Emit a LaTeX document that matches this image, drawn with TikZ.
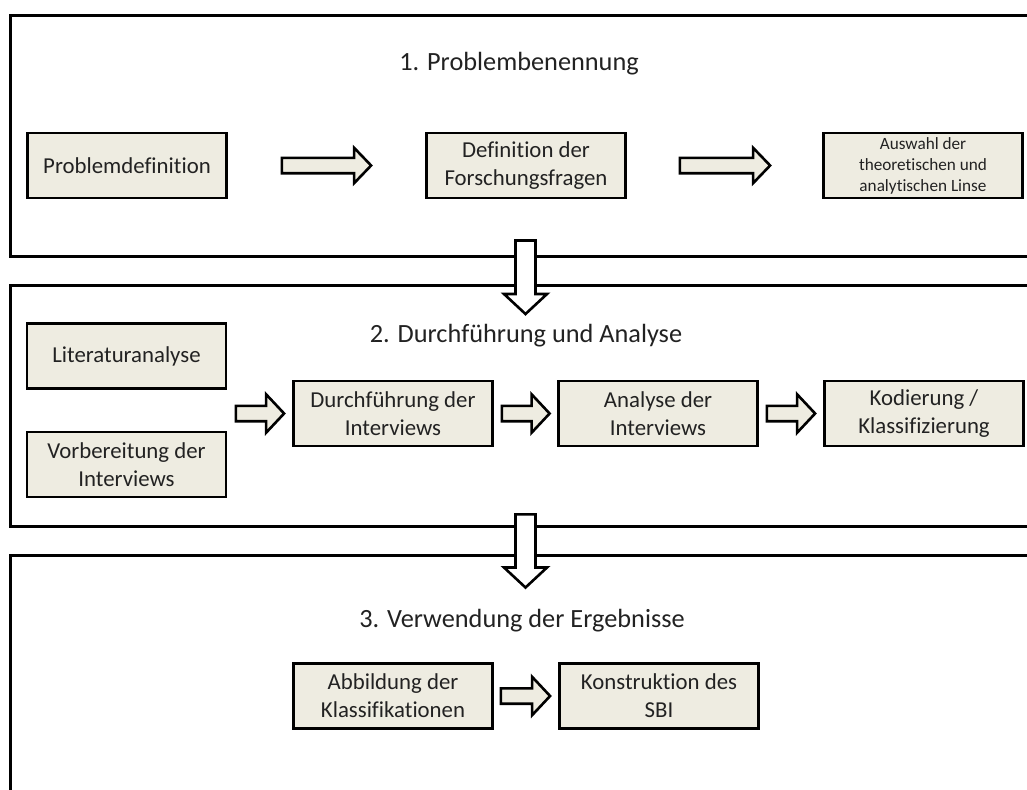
\documentclass[tikz,border=0pt]{standalone}
\usepackage{fontspec}
\setmainfont{Carlito}[Ligatures=NoCommon]
\usetikzlibrary{calc}

\definecolor{boxfill}{HTML}{EEECE1}
\definecolor{inktext}{HTML}{222222}

\tikzset{
  panel/.style={line width=3pt},
  stepbox/.style={draw, line width=2.8pt, fill=boxfill, minimum width=199pt,
    minimum height=65pt, inner sep=2pt, align=center, text=inktext,
    font=\fontsize{22.8}{27.8}\selectfont},
  smallbox/.style={stepbox, font=\fontsize{17.2}{21}\selectfont},
  heading/.style={anchor=base, text=inktext, font=\fontsize{26.3}{32}\selectfont},
  flowarrow/.style={draw, line width=2.6pt, fill=boxfill},
  downarrow/.style={draw, line width=2.6pt, fill=white},
}

% block arrow pointing right: tail, tip, shaft half height, head half height, head length
\newcommand\rightblock[5]{%
  \path[flowarrow] let \p1=(#1), \p2=(#2) in
    (\x1,{\y1+#3}) -- ({\x2-#5},{\y1+#3}) -- ({\x2-#5},{\y1+#4}) -- (\x2,\y1)
    -- ({\x2-#5},{\y1-#4}) -- ({\x2-#5},{\y1-#3}) -- (\x1,{\y1-#3}) -- cycle;}

% block arrow pointing down: tail, tip, shaft half width, head half width, head length
\newcommand\downblock[5]{%
  \path[downarrow] let \p1=(#1), \p2=(#2) in
    ({\x1-#3},\y1) -- ({\x1-#3},{\y2+#5}) -- ({\x1-#4},{\y2+#5}) -- (\x1,\y2)
    -- ({\x1+#4},{\y2+#5}) -- ({\x1+#3},{\y2+#5}) -- ({\x1+#3},\y1) -- cycle;}

\begin{document}
\begin{tikzpicture}[x=1pt, y=-1pt]
\useasboundingbox (0,0) rectangle (1027,789);

% phase panels (open towards the right)
\draw[panel] (1032,16) -- (10,16) -- (10,256) -- (1032,256);
\draw[panel] (1032,285.5) -- (10,285.5) -- (10,526) -- (1032,526);
\draw[panel] (1032,555.5) -- (10,555.5) -- (10,795);

% headings
\node[heading] (h1) at (519,71) {1. Problembenennung};
\node[heading] (h2) at (526,342) {2. Durchführung und Analyse};
\node[heading] (h3) at (522,627) {3. Verwendung der Ergebnisse};

% phase 1
\node[stepbox] (pd) at (127,165.5) {Problemdefinition};
\node[stepbox] (def) at (526,165.5) {Definition der\\Forschungsfragen};
\node[smallbox] (ausw) at (923,165.5) {Auswahl der\\theoretischen und\\analytischen Linse};

% phase 2
\node[stepbox] (lit) at (126.5,356) {Literaturanalyse};
\node[stepbox] (vor) at (126.5,464.5) {Vorbereitung der\\Interviews};
\node[stepbox] (durch) at (393,413.5) {Durchführung der\\Interviews};
\node[stepbox] (ana) at (658,413.5) {Analyse der\\Interviews};
\node[stepbox] (kod) at (924,413.5) {Kodierung /\\Klassifizierung};

% phase 3
\node[stepbox] (abb) at (393,696) {Abbildung der\\Klassifikationen};
\node[stepbox] (kon) at (659,696) {Konstruktion des\\SBI};

% arrows inside the phases
\coordinate (a1s) at ($(pd.east)+(54,0)$);
\coordinate (a1e) at ($(def.west)+(-54,0)$);
\rightblock{a1s}{a1e}{7.7pt}{17.7pt}{17pt}
\coordinate (a2s) at ($(def.east)+(53,0)$);
\coordinate (a2e) at ($(ausw.west)+(-52,0)$);
\rightblock{a2s}{a2e}{7.7pt}{17.7pt}{17pt}

\coordinate (a3s) at ($(lit.east |- durch.west)+(8.5,0)$);
\coordinate (a3e) at ($(durch.west)+(-8,0)$);
\rightblock{a3s}{a3e}{7.7pt}{19.2pt}{18pt}
\coordinate (a4s) at ($(durch.east)+(8,0)$);
\coordinate (a4e) at ($(ana.west)+(-7.5,0)$);
\rightblock{a4s}{a4e}{7.7pt}{19.2pt}{18pt}
\coordinate (a5s) at ($(ana.east)+(8,0)$);
\coordinate (a5e) at ($(kod.west)+(-8,0)$);
\rightblock{a5s}{a5e}{7.7pt}{19.2pt}{18pt}

\coordinate (a6s) at ($(abb.east)+(7,0)$);
\coordinate (a6e) at ($(kon.west)+(-8,0)$);
\rightblock{a6s}{a6e}{7.7pt}{19.2pt}{18pt}

% arrows between the phases
\coordinate (d1s) at (525.5,240.5);
\coordinate (d1e) at (525.5,314);
\downblock{d1s}{d1e}{10pt}{21.5pt}{20pt}
\coordinate (d2s) at (525.5,514.3);
\coordinate (d2e) at (525.5,587.5);
\downblock{d2s}{d2e}{10pt}{21.5pt}{20pt}
\end{tikzpicture}
\end{document}
